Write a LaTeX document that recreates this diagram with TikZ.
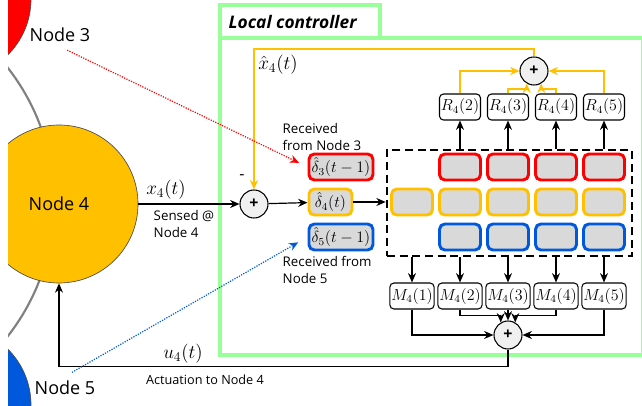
\documentclass[tikz,border=0pt]{standalone}
\usepackage{fontspec}
\setmainfont{Open Sans}
\setsansfont{Open Sans}
\usetikzlibrary{arrows.meta, positioning, calc}

\definecolor{ctrlgreen}{HTML}{99FF99}
\definecolor{agred}{HTML}{FF0000}
\definecolor{agyellow}{HTML}{FFC000}
\definecolor{agblue}{HTML}{0058DD}
\definecolor{cellgray}{HTML}{D9D9D9}

\begin{document}
\begin{tikzpicture}[x=0.75pt, y=-0.75pt,
  >={Stealth[length=7pt, width=6pt]},
  agent/.style={circle, draw=black!70, line width=0.5pt, minimum size=158*0.75pt,
                inner sep=0pt, font=\fontsize{13.5}{16}\selectfont},
  sumnd/.style={circle, draw, line width=0.8pt, fill=gray!12, minimum size=28*0.75pt,
                inner sep=0pt, font=\bfseries\fontsize{12}{14}\selectfont},
  gain/.style={draw, rounded corners=3pt, line width=0.8pt, minimum width=41*0.75pt,
               minimum height=26*0.75pt, inner sep=1pt, font=\fontsize{11.5}{13}\selectfont},
  cell/.style={draw=#1, fill=cellgray, line width=2.2pt, rounded corners=4pt,
               minimum width=41*0.75pt, minimum height=26*0.75pt, inner sep=1pt,
               font=\fontsize{11.5}{13}\selectfont},
  bufbox/.style={draw, line width=2pt, dash pattern=on 6pt off 3.5pt,
                 minimum width=245*0.75pt, minimum height=106*0.75pt},
  note/.style={font=\fontsize{10}{12.75}\selectfont, align=left},
  sig/.style={font=\fontsize{14}{16}\selectfont},
  big/.style={font=\fontsize{13.5}{16}\selectfont},
  wire/.style={->, line width=0.9pt},
  fb/.style={->, draw=agyellow, line width=1.5pt}]

  \useasboundingbox (0,0) rectangle (642,406);

  % ring of agents, cut at the left edge
  \begin{scope}
    \clip (8,0) rectangle (642,406);
    \draw[gray, line width=1.6pt] (-164,202) circle[radius=218];
    \node[agent, fill=agred] (n3) at (-48,-1) {};
    \node[agent, fill=agblue] (n5) at (-48,405) {};
    \node[agent, fill=agyellow] (n4) at (59,204) {Node 4};
  \end{scope}

  \node[big] (l3) at (60,35) {Node 3};
  \node[big] (l5) at (65,388) {Node 5};

  % local controller frame
  \draw[ctrlgreen, line width=3pt] (220,38) rectangle (643,355);
  \draw[ctrlgreen, line width=3pt, fill=white] (220,5) rectangle (380,38);
  \node[font=\bfseries\itshape\fontsize{13}{15}\selectfont, anchor=west] (ttl) at (224,22) {Local controller};

  % summing junctions
  \node[sumnd] (sL) at (254,204) {+};
  \node[sumnd] (sT) at (534,71) {+};
  \node[sumnd] (sB) at (508,335) {+};

  % innovations
  \node[cell=agred, anchor=west, minimum width=64*0.75pt] (d3) at (307.5,167) {$\hat{\delta}_3(t-1)$};
  \node[cell=agyellow, anchor=west, minimum width=43*0.75pt] (d4) at (307.5,202) {$\hat{\delta}_4(t)$};
  \node[cell=agblue, anchor=west, minimum width=64*0.75pt] (d5) at (307.5,237) {$\hat{\delta}_5(t-1)$};

  \node[note, anchor=west] (rx3) at (278,137) {Received\\from Node 3};
  \node[note, anchor=west] (rx5) at (278,270) {Received from\\Node 5};

  % buffer of past innovations
  \node[bufbox] (buf) at (509.5,203) {};
  \foreach \i/\xx in {1/412,2/460,3/508,4/556,5/604} {
    \node[cell=agyellow] (y\i) at (\xx,202) {};
    \node[gain] (M\i) at (\xx,296) {$M_4(\i)$};
    \draw[wire] (M\i |- buf.south) -- (M\i);
  }
  \foreach \i/\xx in {2/460,3/508,4/556,5/604} {
    \node[cell=agred] (r\i) at (\xx,167) {};
    \node[cell=agblue] (b\i) at (\xx,237) {};
    \node[gain] (R\i) at (\xx,107) {$R_4(\i)$};
    \draw[wire] (R\i |- buf.north) -- (R\i);
  }

  % sensing path
  \draw[wire] (n4.east |- sL) -- (sL.west);
  \node[sig] (lx) at (166,190) {$x_4(t)$};
  \node[note, anchor=west] (sn) at (149,224) {Sensed @\\Node 4};
  \draw[wire] (sL) -- (d4);
  \draw[wire] (d4) -- (d4 -| buf.west);

  % prediction feedback
  \draw[fb] (R2.north) |- (sT.west);
  \draw[fb] (R5.north) |- (sT.east);
  \draw[fb] (R3.north) -- ++(0,-4) -| (sT.240);
  \draw[fb] (R4.north) -- ++(0,-4) -| (sT.300);
  \draw[fb] (sT.north) -- ++(0,-7) -| (sL.north);
  \node[sig] (lxh) at (278,65) {$\hat{x}_4(t)$};
  \node[font=\fontsize{12}{14}\selectfont] (mn) at (242,177) {-};

  % control output
  \draw[wire] (M1.south) |- (sB.west);
  \draw[wire] (M5.south) |- (sB.east);
  \draw[wire] (M3.south) -- (sB.north);
  \draw[wire] (M2.south) -- ++(0,6) -| (sB.120);
  \draw[wire] (M4.south) -- ++(0,6) -| (sB.60);
  \draw[wire] (sB.south) -- ++(0,17) -| (n4.south);
  \node[sig] (lu) at (183,354) {$u_4(t)$};
  \node[font=\fontsize{9.5}{12}\selectfont] (act) at (205,380) {Actuation to Node 4};

  % messages from neighbours
  \draw[->, agred, densely dotted, line width=0.9pt, shorten <=6pt, shorten >=7pt] (l3.south) -- (d3.west);
  \draw[->, agblue, densely dotted, line width=0.9pt, shorten <=6pt, shorten >=8pt] (l5.north) -- (d5.west);

\end{tikzpicture}
\end{document}
